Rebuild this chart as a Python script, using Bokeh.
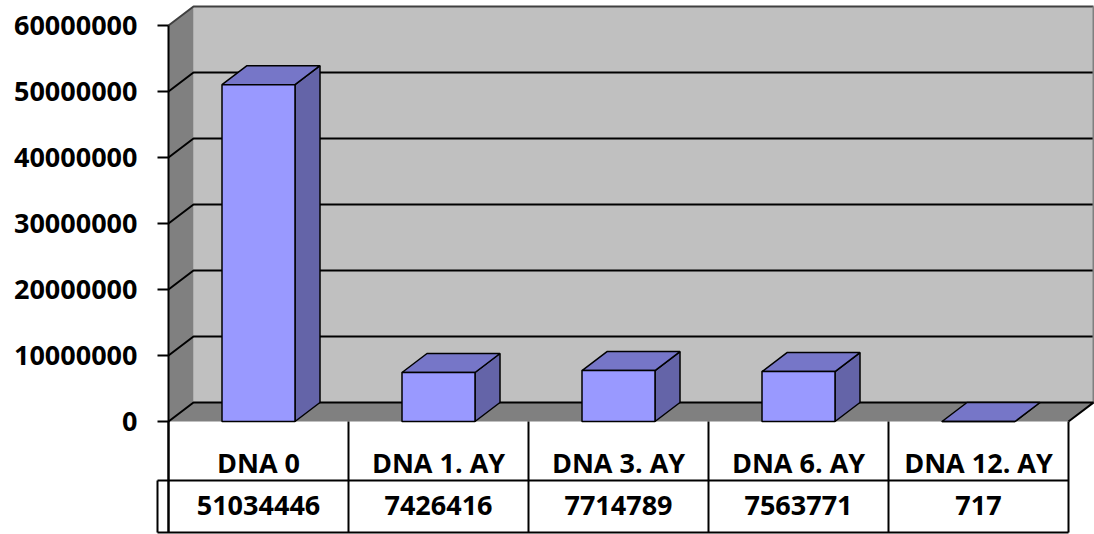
from bokeh.plotting import figure
from bokeh.models import Range1d
from bokeh.core.properties import value
from bokeh.embed import file_html
from bokeh.resources import INLINE

# --- data -------------------------------------------------------------
categories = ["DNA 0", "DNA 1. AY", "DNA 3. AY", "DNA 6. AY", "DNA 12. AY"]
values = [51034446, 7426416, 7714789, 7563771, 717]
y_ticks = [0, 10000000, 20000000, 30000000, 40000000, 50000000, 60000000]
y_tick_labels = ["0", "10000000", "20000000", "30000000", "40000000", "50000000", "60000000"]

# --- layout constants (data units) ------------------------------------
W, H = 1094, 534
PX_X = 180.0            # pixels per category
PX_Y = 66.0 / 1e7       # pixels per value unit
X0_PX, Y0_PX = 168, 421 # pixel position of the origin
n = len(categories)
y_max = y_ticks[-1]

def dx(px):
    return px / PX_X

def dy(px):
    return px / PX_Y

DEPTH_X = dx(25)
DEPTH_Y = dy(19)
BAR_W = dx(73)
TICK_LEN = dx(11)
ROW1 = -dy(59)          # divider between the two table rows
ROW_END = -dy(111)      # bottom of the table
ROW1_TXT = -dy(41)
ROW2_TXT = -dy(84)

FONT = value("Open Sans")
FSIZE = "27px"

p = figure(width=W, height=H, output_backend="svg", toolbar_location=None,
           x_range=Range1d(-X0_PX / PX_X, (W - X0_PX) / PX_X),
           y_range=Range1d(-(H - Y0_PX) / PX_Y, Y0_PX / PX_Y),
           min_border=0, x_axis_location=None, y_axis_location=None)
p.grid.visible = False
p.outline_line_color = None
p.background_fill_color = "white"
p.border_fill_color = "white"

# --- walls and floor --------------------------------------------------
p.patch([DEPTH_X, n + DEPTH_X, n + DEPTH_X, DEPTH_X],
        [DEPTH_Y, DEPTH_Y, y_max + DEPTH_Y, y_max + DEPTH_Y],
        fill_color="#c0c0c0", line_color=None)
p.patch([0, DEPTH_X, DEPTH_X, 0], [0, DEPTH_Y, y_max + DEPTH_Y, y_max],
        fill_color="#808080", line_color=None)
p.patch([0, n, n + DEPTH_X, DEPTH_X], [0, 0, DEPTH_Y, DEPTH_Y],
        fill_color="#808080", line_color=None)

# gridlines on the side wall and back wall
grid = y_ticks[1:-1]
p.multi_line([[0, DEPTH_X, n + DEPTH_X] for _ in grid],
             [[t, t + DEPTH_Y, t + DEPTH_Y] for t in grid],
             line_color="black", line_width=2)
# upper rim of the walls
p.line([0, DEPTH_X, n + DEPTH_X], [y_max, y_max + DEPTH_Y, y_max + DEPTH_Y],
       line_color="#404040", line_width=2)
p.line([n + DEPTH_X, n + DEPTH_X], [DEPTH_Y, y_max + DEPTH_Y],
       line_color="#808080", line_width=2)
# floor edges
p.line([0, DEPTH_X, n + DEPTH_X, n], [0, DEPTH_Y, DEPTH_Y, 0],
       line_color="black", line_width=2)

# --- 3D columns -------------------------------------------------------
fx, fy, tx, ty, sx, sy = [], [], [], [], [], []
for i, v in enumerate(values):
    x0 = i + 0.5 - BAR_W / 2
    x1 = i + 0.5 + BAR_W / 2
    fx.append([x0, x1, x1, x0]); fy.append([0, 0, v, v])
    tx.append([x0, x1, x1 + DEPTH_X, x0 + DEPTH_X])
    ty.append([v, v, v + DEPTH_Y, v + DEPTH_Y])
    sx.append([x1, x1 + DEPTH_X, x1 + DEPTH_X, x1])
    sy.append([0, DEPTH_Y, v + DEPTH_Y, v])
p.patches(sx, sy, fill_color="#6464a8", line_color="black", line_width=1.5)
p.patches(tx, ty, fill_color="#7676c8", line_color="black", line_width=1.5)
p.patches(fx, fy, fill_color="#9999ff", line_color="black", line_width=1.5)

# --- value axis -------------------------------------------------------
p.line([0, 0], [ROW_END, y_max], line_color="black", line_width=2)
p.segment(x0=[-TICK_LEN] * len(y_ticks), y0=y_ticks, x1=[0] * len(y_ticks),
          y1=y_ticks, line_color="black", line_width=2)
p.text(x=[-dx(31)] * len(y_ticks), y=y_ticks, text=y_tick_labels,
       text_align="right", text_baseline="middle", text_font=FONT,
       text_font_style="bold", text_font_size=FSIZE, text_color="black")

# --- data table -------------------------------------------------------
p.segment(x0=list(range(n + 1)), y0=[0] * (n + 1), x1=list(range(n + 1)),
          y1=[ROW_END] * (n + 1), line_color="black", line_width=2)
p.segment(x0=[-TICK_LEN, -TICK_LEN, -TICK_LEN], y0=[ROW1, ROW_END, ROW1],
          x1=[n, n, -TICK_LEN], y1=[ROW1, ROW_END, ROW_END],
          line_color="black", line_width=2)
centers = [i + 0.5 for i in range(n)]
p.text(x=centers, y=[ROW1_TXT] * n, text=categories, text_align="center",
       text_baseline="middle", text_font=FONT, text_font_style="bold",
       text_font_size=FSIZE, text_color="black")
p.text(x=centers, y=[ROW2_TXT] * n, text=[str(v) for v in values],
       text_align="center", text_baseline="middle", text_font=FONT,
       text_font_style="bold", text_font_size=FSIZE, text_color="black")

open("out.html", "w").write(file_html(p, INLINE))
